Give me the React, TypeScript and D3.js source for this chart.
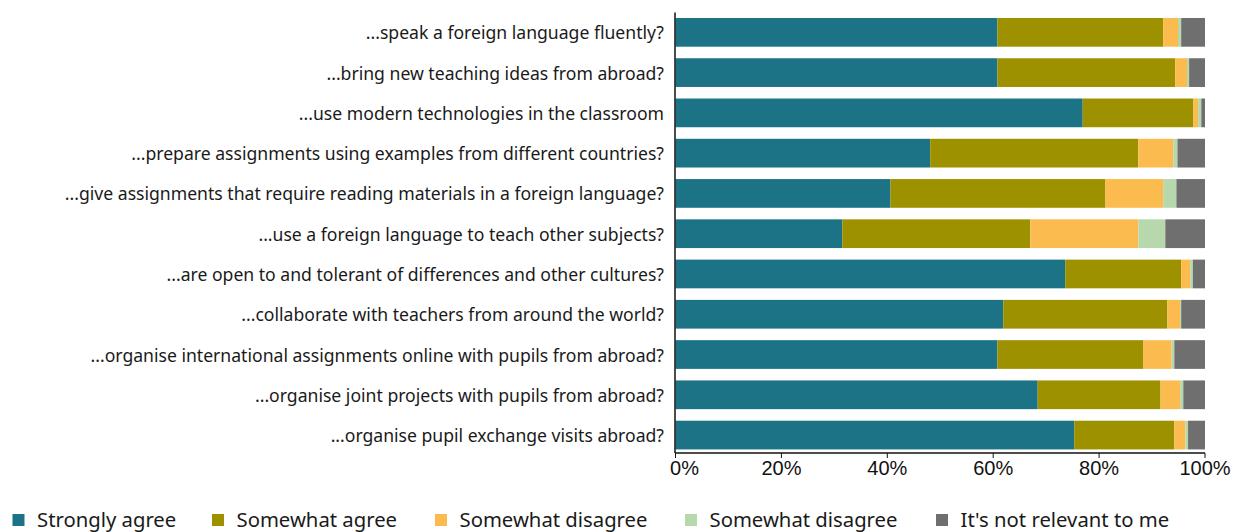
import React from "react";
import * as d3 from "d3";

const categories = [
  "...speak a foreign language fluently?",
  "...bring new teaching ideas from abroad?",
  "...use modern technologies in the classroom",
  "...prepare assignments using examples from different countries?",
  "...give assignments that require reading materials in a foreign language?",
  "...use a foreign language to teach other subjects?",
  "...are open to and tolerant of differences and other cultures?",
  "...collaborate with teachers from around the world?",
  "...organise international assignments online with pupils from abroad?",
  "...organise joint projects with pupils from abroad?",
  "...organise pupil exchange visits abroad?",
];

const stronglyAgree = [60.8, 60.8, 76.9, 48.1, 40.6, 31.5, 73.6, 61.9, 60.8, 68.4, 75.3];
const somewhatAgree = [31.3, 33.6, 20.9, 39.3, 40.6, 35.5, 21.9, 31.0, 27.5, 23.2, 18.9];
const somewhatDisagree = [2.8, 2.2, 0.9, 6.6, 10.9, 20.4, 1.7, 2.4, 5.4, 3.7, 2.1];
const somewhatDisagree2 = [0.6, 0.4, 0.6, 0.8, 2.5, 5.1, 0.5, 0.2, 0.5, 0.6, 0.5];
const notRelevant = [4.5, 3.0, 0.7, 5.2, 5.4, 7.5, 2.3, 4.5, 5.8, 4.1, 3.2];

const seriesKeys = ["s0", "s1", "s2", "s3", "s4"];
const seriesLabels = [
  "Strongly agree",
  "Somewhat agree",
  "Somewhat disagree",
  "Somewhat disagree",
  "It's not relevant to me",
];
const seriesColors = ["#1b7385", "#9e9100", "#fbbb4f", "#b7d8ad", "#6f6f6f"];
const xTicks = [0, 20, 40, 60, 80, 100];

const W = 1248;
const H = 532;
const LABEL_FONT = "'Noto Sans', sans-serif";
const TICK_FONT = "'Liberation Sans', Arial, sans-serif";
const legendX = [12.5, 212, 435, 685, 936];

export default function App() {
  const rows = categories.map((c, i) => ({
    cat: c,
    s0: stronglyAgree[i],
    s1: somewhatAgree[i],
    s2: somewhatDisagree[i],
    s3: somewhatDisagree2[i],
    s4: notRelevant[i],
  }));
  const stacked = d3.stack<any>().keys(seriesKeys)(rows);

  const x = d3.scaleLinear().domain([0, 100]).range([675.5, 1205]);
  const y = d3
    .scaleBand<string>()
    .domain(categories)
    .range([12.2, 455.2])
    .paddingInner(0.287)
    .paddingOuter(0.1435);

  const axisY = 453;

  return (
    <svg
      width={W}
      height={H}
      style={{ position: "absolute", left: 0, top: 0, background: "#fff" }}
    >
      {stacked.map((s, si) => (
        <g key={si} fill={seriesColors[si]}>
          {s.map((d: any, i: number) => (
            <rect
              key={i}
              x={x(d[0])}
              width={Math.max(0, x(d[1]) - x(d[0]))}
              y={y(categories[i])}
              height={y.bandwidth()}
            />
          ))}
        </g>
      ))}

      {categories.map((c) => (
        <text
          key={c}
          x={664}
          y={(y(c) as number) + y.bandwidth() / 2}
          textAnchor="end"
          dominantBaseline="central"
          fontFamily={LABEL_FONT}
          fontSize={17.6}
          fill="#1a1a1a"
        >
          {c}
        </text>
      ))}

      <line x1={675} x2={675} y1={12.5} y2={axisY} stroke="#111" strokeWidth={1.5} />

      <line x1={675} x2={1205} y1={axisY} y2={axisY} stroke="#111" strokeWidth={1.5} />
      {xTicks.map((t, i) => (
        <g key={t}>
          <line
            x1={x(t)}
            x2={x(t)}
            y1={axisY}
            y2={axisY + 5}
            stroke="#111"
            strokeWidth={1}
          />
          <text
            x={x(t) + (i === 0 ? 9 : 0)}
            y={475}
            textAnchor="middle"
            fontFamily={TICK_FONT}
            fontSize={20}
            fill="#111"
          >
            {t}%
          </text>
        </g>
      ))}

      {seriesLabels.map((lab, i) => (
        <g key={i}>
          <rect x={legendX[i]} y={514} width={12} height={12} fill={seriesColors[i]} />
          <text
            x={legendX[i] + 24.5}
            y={527}
            fontFamily={LABEL_FONT}
            fontSize={20.3}
            fill="#1a1a1a"
          >
            {lab}
          </text>
        </g>
      ))}
    </svg>
  );
}
